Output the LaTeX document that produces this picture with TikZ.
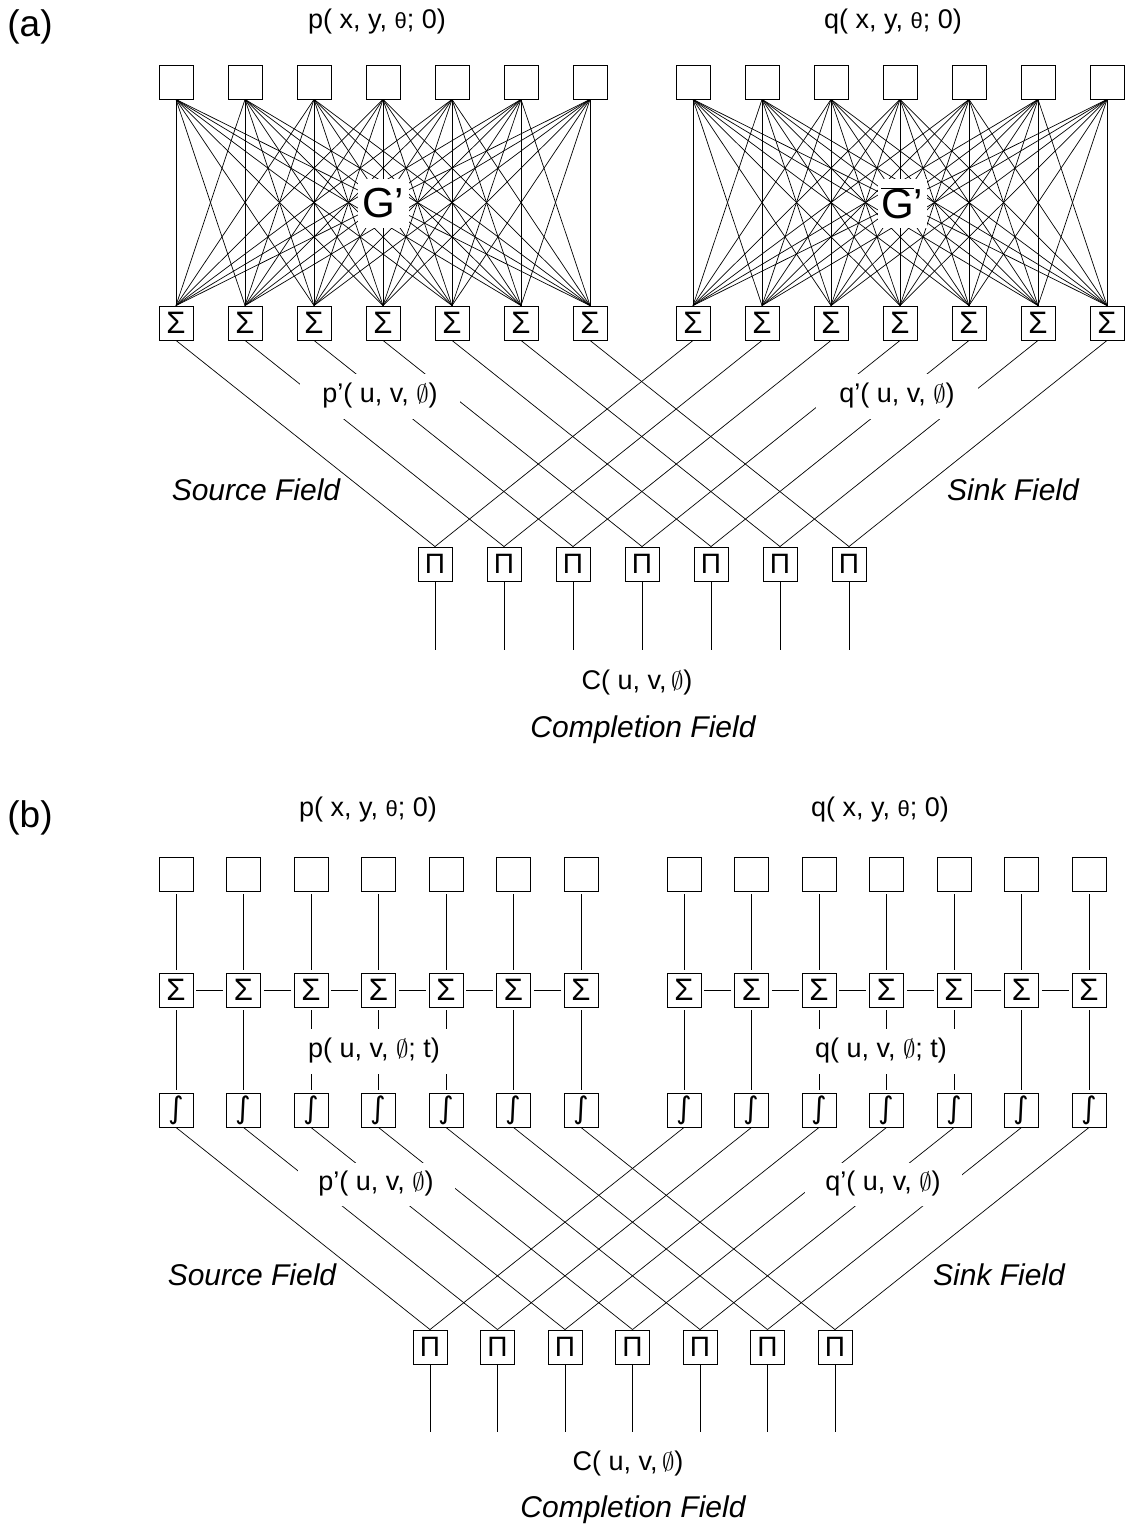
\documentclass[tikz,border=0pt]{standalone}
\usepackage{fontspec}
\setmainfont{Liberation Sans}
\newfontfamily\symfam{DejaVu Sans}
\usetikzlibrary{positioning}

\newcommand{\eqfont}{\fontsize{27}{32}\selectfont}
\newcommand{\fieldfont}{\fontsize{30}{36}\selectfont\itshape}
\newcommand{\panelfont}{\fontsize{37}{44}\selectfont}
\newcommand{\graphfont}{\fontsize{42}{46}\selectfont}
\newcommand{\sumfont}{\fontsize{31}{31}\selectfont}
\newcommand{\prodfont}{\fontsize{28}{28}\selectfont}
\newcommand{\intfont}{\symfam\fontsize{30}{30}\selectfont}
\newcommand{\thsm}{{\fontsize{22}{24}\selectfont θ}}
\newcommand{\es}{$\emptyset$}

\begin{document}
\begin{tikzpicture}[x=1pt, y=-1pt,
  box/.style={draw, line width=0.9pt, minimum size=34pt, inner sep=0pt},
  link/.style={line width=0.7pt},
  gapped/.style={link, shorten <=3pt, shorten >=3pt},
  cover/.style={fill=white, inner sep=0pt, font=\eqfont},
  field/.style={font=\fieldfont},
  tag/.style={font=\eqfont}]
\useasboundingbox (0,0) rectangle (1126,1526);

% ---------- (a) ----------
\node[font=\panelfont] (atag) at (30,27) {(a)};
\foreach \i [evaluate=\i as \xp using 176+69*(\i-1),
             evaluate=\i as \xq using 693+69*(\i-1),
             evaluate=\i as \xm using 435+69*(\i-1)] in {1,...,7} {
  \node[box] (aP\i) at (\xp,82) {};
  \node[box] (aQ\i) at (\xq,82) {};
  \node[box, font=\sumfont] (aSP\i) at (\xp,323) {Σ};
  \node[box, font=\sumfont] (aSQ\i) at (\xq,323) {Σ};
  \node[box, font=\prodfont] (aM\i) at (\xm,564) {Π};
  \coordinate (aE\i) at (\xm,650);
}
\foreach \i in {1,...,7}
  \foreach \j in {1,...,7} {
    \draw[link] (aP\i.south) -- (aSP\j.north);
    \draw[link] (aQ\i.south) -- (aSQ\j.north);
  }
\foreach \i in {1,...,7} {
  \draw[link] (aSP\i.south) -- (aM\i.north);
  \draw[link] (aSQ\i.south) -- (aM\i.north);
  \draw[link] (aM\i) -- (aE\i);
}
\node[tag] (ap0) at (377,22) {p( x, y, \thsm; 0)};
\node[tag] (aq0) at (893,22) {q( x, y, \thsm; 0)};
\node[cover, font=\graphfont, minimum width=51pt, minimum height=49pt] (aG) at (383,203) {G’};
\node[cover, font=\graphfont, minimum width=49pt, minimum height=49pt] (aGb) at (902,203) {$\overline{\mbox{G}}$’};
\node[cover, minimum width=160pt, minimum height=45pt] (apr) at (380,396) {p’( u, v, \es)};
\node[cover, minimum width=162pt, minimum height=45pt] (aqr) at (897,396) {q’( u, v, \es)};
\node[field] (asrc) at (256,490) {Source Field};
\node[field] (asnk) at (1013,490) {Sink Field};
\node[tag] (aC) at (637,683) {C( u, v,\,\es)};
\node[field] (acf) at (643,730) {Completion Field};

% ---------- (b) ----------
\node[font=\panelfont] (btag) at (30,818) {(b)};
\foreach \i [evaluate=\i as \xp using 176+67.5*(\i-1),
             evaluate=\i as \xq using 684+67.5*(\i-1),
             evaluate=\i as \xm using 430+67.5*(\i-1)] in {1,...,7} {
  \node[box] (bP\i) at (\xp,874) {};
  \node[box] (bQ\i) at (\xq,874) {};
  \node[box, font=\sumfont] (bSP\i) at (\xp,990) {Σ};
  \node[box, font=\sumfont] (bSQ\i) at (\xq,990) {Σ};
  \node[box, font=\intfont] (bIP\i) at (\xp,1110) {∫};
  \node[box, font=\intfont] (bIQ\i) at (\xq,1110) {∫};
  \node[box, font=\prodfont] (bM\i) at (\xm,1347) {Π};
  \coordinate (bE\i) at (\xm,1432);
}
\foreach \i in {1,...,7} {
  \draw[gapped] (bP\i) -- (bSP\i);
  \draw[gapped] (bQ\i) -- (bSQ\i);
  \draw[gapped] (bSP\i) -- (bIP\i);
  \draw[gapped] (bSQ\i) -- (bIQ\i);
  \draw[link] (bIP\i.south) -- (bM\i.north);
  \draw[link] (bIQ\i.south) -- (bM\i.north);
  \draw[link] (bM\i) -- (bE\i);
}
\foreach \i/\j in {1/2,2/3,3/4,4/5,5/6,6/7} {
  \draw[gapped] (bSP\i) -- (bSP\j);
  \draw[gapped] (bSQ\i) -- (bSQ\j);
}
\node[tag] (bp0) at (368,810) {p( x, y, \thsm; 0)};
\node[tag] (bq0) at (880,810) {q( x, y, \thsm; 0)};
\node[cover, minimum width=160pt, minimum height=45pt] (bpt) at (374,1051) {p( u, v, \es; t)};
\node[cover, minimum width=160pt, minimum height=45pt] (bqt) at (881,1051) {q( u, v, \es; t)};
\node[cover, minimum width=157pt, minimum height=43pt] (bpr) at (376,1184) {p’( u, v, \es)};
\node[cover, minimum width=157pt, minimum height=43pt] (bqr) at (883,1184) {q’( u, v, \es)};
\node[field] (bsrc) at (252,1275) {Source Field};
\node[field] (bsnk) at (999,1275) {Sink Field};
\node[tag] (bC) at (628,1463) {C( u, v,\,\es)};
\node[field] (bcf) at (633,1510) {Completion Field};
\end{tikzpicture}
\end{document}
